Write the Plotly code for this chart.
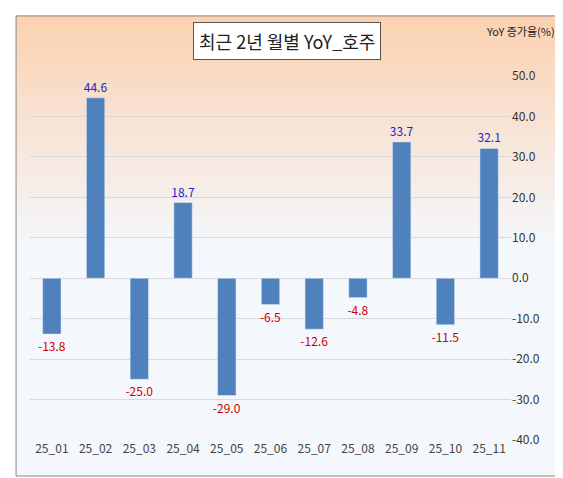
import plotly.graph_objects as go

categories = ["25_01","25_02","25_03","25_04","25_05","25_06","25_07","25_08","25_09","25_10","25_11"]
values = [-13.8, 44.6, -25.0, 18.7, -29.0, -6.5, -12.6, -4.8, 33.7, -11.5, 32.1]
tick_vals = [50, 40, 30, 20, 10, 0, -10, -20, -30, -40]

fig = go.Figure(go.Bar(
    x=categories, y=values,
    marker_color="#4f81bd",
    text=[f"{v:.1f}" for v in values],
    textposition="outside",
    constraintext="none",
    outsidetextfont=dict(size=12, color=["#2222cc" if v >= 0 else "#cc0000" for v in values]),
    cliponaxis=False,
))

# background gradient bands (peach -> pale blue)
shapes = []
n = 50
top = (252, 210, 178)
bot = (244, 248, 252)
Y0, Y1 = -0.099, 1.165
X0, X1 = -0.029, 1.108
for i in range(n):
    t = i / (n - 1)
    f = min(1.0, t / 0.5)
    c = tuple(int(top[k] + (bot[k] - top[k]) * f) for k in range(3))
    y1 = Y1 - (Y1 - Y0) * i / n
    y0 = Y1 - (Y1 - Y0) * (i + 1) / n
    shapes.append(dict(type="rect", xref="paper", yref="paper", x0=X0, x1=X1,
                       y0=y0 - 0.001, y1=y1 + 0.001, fillcolor=f"rgb{c}", line_width=0, layer="below"))
shapes.append(dict(type="rect", xref="paper", yref="paper", x0=X0, x1=X1, y0=Y0, y1=Y1,
                   line=dict(color="#888", width=1), fillcolor="rgba(0,0,0,0)"))

fig.update_layout(
    width=563, height=478,
    margin=dict(l=22, r=60, t=68, b=46),
    paper_bgcolor="white", plot_bgcolor="rgba(0,0,0,0)",
    bargap=0.58, showlegend=False,
    font=dict(family="Noto Sans CJK KR, Noto Sans", size=12, color="#333"),
    shapes=shapes,
    xaxis=dict(showgrid=False, showline=False, tickfont=dict(size=12, color="#444")),
    yaxis=dict(side="right", range=[-40, 50], tickvals=tick_vals,
               ticktext=[f"{v:.1f}" for v in tick_vals],
               gridcolor="#d9d9d9", zeroline=False, showline=False,
               tickfont=dict(size=12, color="#333")),
    annotations=[
        dict(text="최근 2년 월별 YoY_호주", xref="paper", yref="paper", x=0.535, y=1.096,
             yanchor="middle", showarrow=False, font=dict(size=18, color="#222"), bgcolor="white",
             bordercolor="#555", borderwidth=1, borderpad=5),
        dict(text="YoY 증가율(%)", xref="paper", yref="paper", x=1.095, y=1.125,
             xanchor="right", yanchor="middle", showarrow=False, font=dict(size=11, color="#222")),
    ],
)
fig.write_html("out.html")
